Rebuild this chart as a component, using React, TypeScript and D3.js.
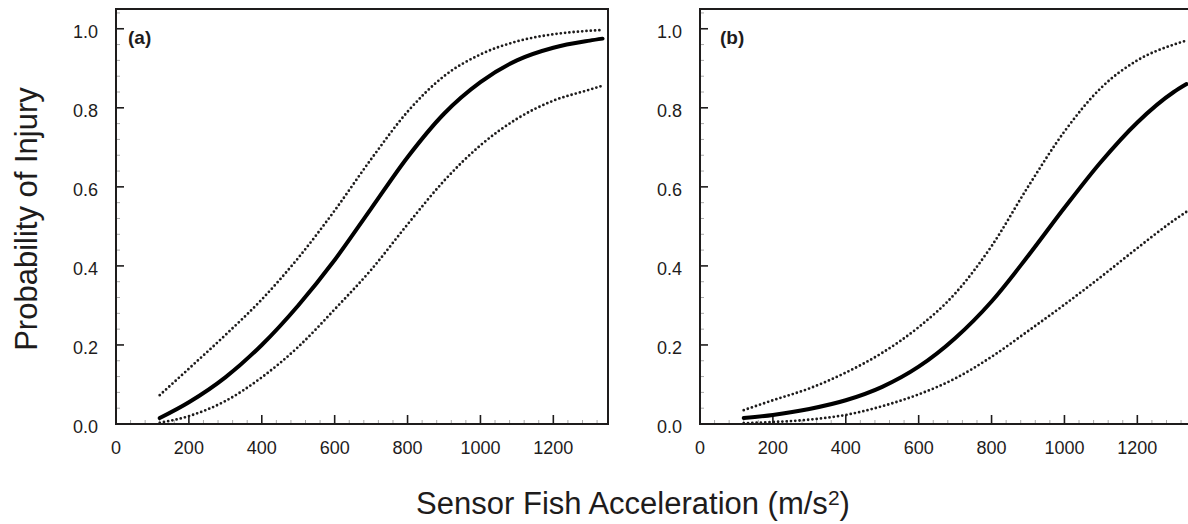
import React from "react";
import * as d3 from "d3";

// ---- data ----
const accel = [120, 200, 300, 400, 500, 600, 700, 800, 900, 1000, 1100, 1200, 1300, 1335];

const aFit = [0.015, 0.055, 0.118, 0.2, 0.3, 0.415, 0.545, 0.675, 0.785, 0.865, 0.92, 0.952, 0.97, 0.975];
const aUpper = [0.073, 0.14, 0.225, 0.315, 0.42, 0.54, 0.67, 0.79, 0.88, 0.935, 0.968, 0.986, 0.995, 0.997];
const aLower = [0.003, 0.02, 0.058, 0.118, 0.195, 0.29, 0.39, 0.505, 0.615, 0.705, 0.772, 0.818, 0.846, 0.856];

const bFit = [0.015, 0.023, 0.038, 0.06, 0.094, 0.145, 0.217, 0.31, 0.425, 0.547, 0.663, 0.763, 0.84, 0.86];
const bUpper = [0.035, 0.06, 0.09, 0.13, 0.18, 0.245, 0.33, 0.45, 0.6, 0.74, 0.85, 0.92, 0.96, 0.97];
const bLower = [0.002, 0.005, 0.011, 0.023, 0.045, 0.075, 0.115, 0.17, 0.235, 0.302, 0.372, 0.445, 0.515, 0.537];

const xTicks = [0, 200, 400, 600, 800, 1000, 1200];
const yTicks = [0, 0.2, 0.4, 0.6, 0.8, 1.0];
const panelLabels = ["(a)", "(b)"];

const W = 1188;
const H = 524;
const FONT = "'Liberation Sans', Arial, Helvetica, sans-serif";
const INK = "#1e1c1c";

type PanelProps = {
  left: number;
  label: string;
  labelDx: number;
  fit: number[];
  upper: number[];
  lower: number[];
};

const TOP = 9;
const BOTTOM = 424;
const PW = 492;

function Panel({ left, label, labelDx, fit, upper, lower }: PanelProps) {
  const x = d3.scaleLinear().domain([0, 1350]).range([left, left + PW]);
  const y = d3.scaleLinear().domain([0, 1.05]).range([BOTTOM, TOP]);
  const line = (vals: number[]) =>
    d3
      .line<number>()
      .x((_, i) => x(accel[i]))
      .y((v) => y(v))
      .curve(d3.curveMonotoneX)(vals) as string;

  const xMinor = d3.range(0, 1351, 40).filter((v) => v % 200 !== 0);
  const yMinor = d3.range(0, 1.05, 0.04).filter((v) => Math.abs(v / 0.2 - Math.round(v / 0.2)) > 0.01);

  return (
    <g>
      {xMinor.map((v) => (
        <line key={"xm" + v} x1={x(v)} x2={x(v)} y1={BOTTOM} y2={BOTTOM - 4} stroke="#aaa" strokeWidth={1} />
      ))}
      {yMinor.map((v) => (
        <line key={"ym" + v} x1={left} x2={left + 4} y1={y(v)} y2={y(v)} stroke="#aaa" strokeWidth={1} />
      ))}
      {xTicks.map((v) => (
        <g key={"xt" + v}>
          <line x1={x(v)} x2={x(v)} y1={BOTTOM} y2={BOTTOM - 9} stroke={INK} strokeWidth={1.6} />
          <text x={x(v)} y={BOTTOM + 29.5} textAnchor="middle" fontSize={18} fontFamily={FONT} fill={INK}>
            {String(v)}
          </text>
        </g>
      ))}
      {yTicks.map((v) => (
        <g key={"yt" + v}>
          <line x1={left} x2={left + 8} y1={y(v)} y2={y(v)} stroke={INK} strokeWidth={1.6} />
          <text x={left - 18} y={y(v) + 9} textAnchor="end" fontSize={18} fontFamily={FONT} fill={INK}>
            {v.toFixed(1)}
          </text>
        </g>
      ))}
      <rect x={left} y={TOP} width={PW} height={BOTTOM - TOP} fill="none" stroke={INK} strokeWidth={2} />
      <path d={line(upper)} fill="none" stroke={INK} strokeWidth={2.8} strokeDasharray="0 4.3" strokeLinecap="round" />
      <path d={line(lower)} fill="none" stroke={INK} strokeWidth={2.8} strokeDasharray="0 4.3" strokeLinecap="round" />
      <path d={line(fit)} fill="none" stroke="#000" strokeWidth={4} strokeLinecap="round" />
      <text x={left + labelDx} y={44} fontSize={19} fontWeight="bold" fontFamily={FONT} fill={INK}>
        {label}
      </text>
    </g>
  );
}

export default function App() {
  return (
    <svg
      width={W}
      height={H}
      viewBox={`0 0 ${W} ${H}`}
      style={{ position: "absolute", left: 0, top: 0, background: "#fff" }}
    >
      <rect x={0} y={0} width={W} height={H} fill="#fff" />
      <Panel left={116} label={panelLabels[0]} labelDx={12} fit={aFit} upper={aUpper} lower={aLower} />
      <Panel left={700} label={panelLabels[1]} labelDx={20} fit={bFit} upper={bUpper} lower={bLower} />
      <text
        transform="translate(37,219) rotate(-90)"
        textAnchor="middle"
        fontSize={31}
        fontFamily={FONT}
        fill={INK}
      >
        Probability of Injury
      </text>
      <text x={633} y={514} textAnchor="middle" fontSize={31} fontFamily={FONT} fill={INK}>
        Sensor Fish Acceleration (m/s
        <tspan fontSize={21} dy={-9}>2</tspan>
        <tspan dy={9}>)</tspan>
      </text>
    </svg>
  );
}
